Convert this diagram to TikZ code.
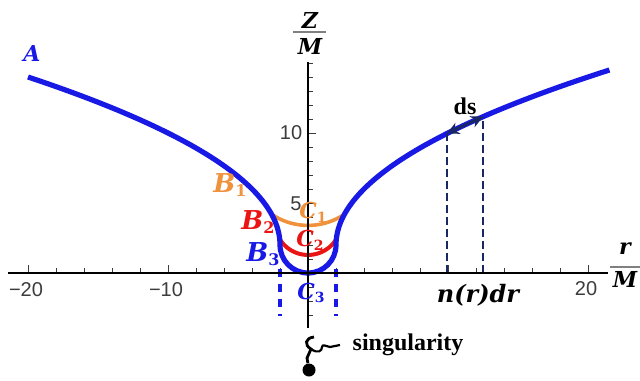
\documentclass[tikz,border=0pt]{standalone}
\usepackage{fontspec}
\setmainfont{Liberation Serif}
\newfontfamily\sansf{Liberation Sans}
\newfontfamily\mathf{DejaVu Serif}
\usetikzlibrary{arrows.meta}
\definecolor{cblue}{RGB}{25,25,230}
\definecolor{corange}{RGB}{240,145,60}
\definecolor{cred}{RGB}{235,20,20}
\definecolor{cnavy}{RGB}{25,40,100}
\definecolor{tickgray}{RGB}{60,60,60}
\newcommand{\sublbl}[4]{{\mathf\bfseries\itshape\fontsize{#3}{#3}\selectfont #1}\raisebox{-0.4ex}{\mathf\bfseries\fontsize{#4}{#4}\selectfont #2}}
\begin{document}
\begin{tikzpicture}[x=0.5pt,y=-0.5pt,
  axisline/.style={line width=1.3pt, black},
  tickline/.style={line width=0.5pt, tickgray},
  ticklab/.style={font=\sansf\fontsize{10}{10}\selectfont, text=tickgray, inner sep=0pt},
  mlab/.style={font=\mathf\bfseries\itshape\fontsize{11}{11}\selectfont, inner sep=0pt},
  fracrule/.style={line width=0.8pt, gray},
  navydash/.style={cnavy, line width=1.4pt, dash pattern=on 4pt off 2pt},
  bluedash/.style={cblue, line width=2.4pt, dash pattern=on 4pt off 3.5pt},
  txt/.style={font=\bfseries\fontsize{12}{12}\selectfont, inner sep=0pt}]
\useasboundingbox (0,0) rectangle (640,380);
\fill[white] (0,0) rectangle (640,380);

% axes
\coordinate (xl) at (8,273);
\coordinate (xr) at (608,273);
\coordinate (yb) at (308,328);
\coordinate (yt) at (308,62);

\begin{scope}[shift={(308,273)}, x=7pt, y=7pt]
  % ticks
  \foreach \t in {-18,-16,-14,-12,-8,-6,-4,-2,2,4,6,8,12,14,16,18}
    \draw[tickline] (\t,0) -- (\t,0.35);
  \foreach \t in {-20,-10,10,20}
    \draw[tickline] (\t,0) -- (\t,0.6);
  \foreach \t in {-3,-2,-1,1,2,3,4,6,7,8,9,11,12,13,14,15}
    \draw[tickline] (0,\t) -- (0.35,\t);
  \foreach \t in {5,10}
    \draw[tickline] (0,\t) -- (0.6,\t);

  % key points
  \coordinate (p1) at (9.93,0);
  \coordinate (q1) at (9.93,9.97);
  \coordinate (p2) at (12.5,0);
  \coordinate (q2) at (12.5,11.17);
  \coordinate (bl) at (-2,0.3);
  \coordinate (bld) at (-2,-3.1);
  \coordinate (br) at (2,0.3);
  \coordinate (brd) at (2,-3.1);

  % C curves
  \draw[corange, line width=1.8pt] plot[domain=-2.6:2.6, samples=50] (\x,{3.4+4.64-sqrt(4.64*4.64-\x*\x)});
  \draw[cred, line width=2pt] plot[domain=-2.02:2.02, samples=50] (\x,{1.29+2.37-sqrt(2.37*2.37-\x*\x)});
  % main curve
  \draw[cblue, line width=2.6pt, line join=round]
    plot[variable=\s, domain=12:0, samples=70] ({-(2+\s*\s/8)},{2+\s})
    arc[start angle=180, end angle=360, radius=2]
    -- plot[variable=\s, domain=0:12.5, samples=70] ({2+\s*\s/8},{2+\s});

  % dashed lines
  \draw[navydash] (p1) -- (q1);
  \draw[navydash] (p2) -- (q2);
  \draw[cnavy, line width=1.4pt, {Stealth[length=6pt,width=6pt]}-{Stealth[length=6pt,width=6pt]}] (q1) -- (q2);
  \draw[bluedash] (bl) -- (bld);
  \draw[bluedash] (br) -- (brd);
\end{scope}

\draw[axisline] (xl) -- (xr);
\draw[axisline] (yb) -- (yt);

% tick labels
\node[ticklab] (tm20) at (26,290) {−20};
\node[ticklab] (tm10) at (166,290) {−10};
\node[ticklab] (t20) at (586,289) {20};
\node[ticklab] (t10) at (291,133) {10};
\node[ticklab] (t5) at (296,204) {5};

% axis labels
\node[mlab] (Zlab) at (310,20) {Z};
\node[mlab] (ZMlab) at (310,46) {M};
\draw[fracrule] (293,32) -- (326,32);
\node[mlab] (rlab) at (625,249) {r};
\node[mlab] (rMlab) at (625,279) {M};
\draw[fracrule] (610,267) -- (640,267);

% curve labels
\node[mlab, text=cblue] (A) at (32,53) {A};
\node[inner sep=0pt, text=corange] (B1) at (230,185) {\sublbl{B}{1}{13}{8}};
\node[inner sep=0pt, text=cred] (B2) at (258,222) {\sublbl{B}{2}{13}{8}};
\node[inner sep=0pt, text=cblue] (B3) at (263,254) {\sublbl{B}{3}{13}{8}};
\node[inner sep=0pt, text=corange] (C1) at (313,212) {\sublbl{C}{1}{11}{7}};
\node[inner sep=0pt, text=cred] (C2) at (310,240) {\sublbl{C}{2}{11}{7}};
\node[inner sep=0pt, text=cblue] (C3) at (311,293) {\sublbl{C}{3}{11}{7}};

\node[txt] (ds) at (465,106) {ds};
\node[mlab, font=\mathf\bfseries\itshape\fontsize{12}{12}\selectfont] (ndr) at (478,295) {n(r)dr};
\node[txt] (sing) at (408,345) {singularity};

% singularity symbol
\coordinate (s0) at (314,337);
\coordinate (s1) at (311,349);
\coordinate (s3) at (340,345);
\node[circle, fill=black, inner sep=0pt, minimum size=6.5pt] (dot) at (309,370) {};
\draw[line width=1.4pt] (s0) .. controls (305,338) and (304,345) .. (s1) -- (307,358) -- (dot);
\draw[line width=1.1pt] (s1) .. controls (318,354) and (322,351) .. (322,347) .. controls (322,344) and (326,346) .. (330,347) -- (s3);
\end{tikzpicture}
\end{document}
